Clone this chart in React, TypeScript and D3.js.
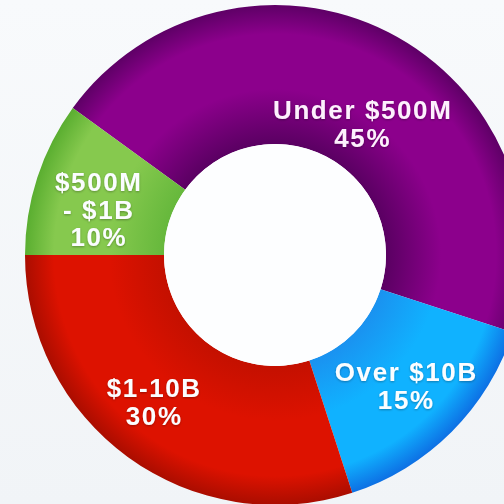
import React, { useEffect } from "react";
import * as d3 from "d3";

const categories = ["Under $500M", "Over $10B", "$1-10B", "$500M - $1B"];
const values = [45, 15, 30, 10];
const labelLines = [
  ["Under $500M", "45%"],
  ["Over $10B", "15%"],
  ["$1-10B", "30%"],
  ["$500M", "- $1B", "10%"],
];
// gradient colours per slice: [inner, bright, outer]
const palette = [
  ["#5a0062", "#8c008c", "#5e0066"],
  ["#1a92f0", "#10b2ff", "#0d70e4"],
  ["#c41000", "#dd1200", "#aa0d00"],
  ["#66b83c", "#86c94e", "#5aae30"],
];

const W = 504;
const H = 504;
const cx = 275;
const cy = 255;
const outerR = 250;
const innerR = 111;
const labelR = 180;
const nudges = [
  [6, 29],
  [4, 3],
  [-15, 1],
  [-5, 10],
];
const lineH = 27.5;
const capH = 19;

export default function App() {
  useEffect(() => {
    document.body.style.margin = "0";
  }, []);

  const pie = d3
    .pie<number>()
    .sort(null)
    .value((d) => d)
    .startAngle(-0.3 * Math.PI)
    .endAngle(1.7 * Math.PI);
  const arcs = pie(values);
  const arc = d3.arc<d3.PieArcDatum<number>>().innerRadius(innerR).outerRadius(outerR);
  const labelArc = d3.arc<d3.PieArcDatum<number>>().innerRadius(labelR).outerRadius(labelR);
  const rel = (r: number) => r / outerR;

  return (
    <svg width={W} height={H} style={{ display: "block" }} xmlns="http://www.w3.org/2000/svg">
      <defs>
        <linearGradient id="bg" x1="0" y1="0" x2="0" y2="1">
          <stop offset="0" stopColor="#f8fafc" />
          <stop offset="1" stopColor="#f1f4f7" />
        </linearGradient>
        {palette.map((p, i) => (
          <radialGradient
            key={i}
            id={`g${i}`}
            gradientUnits="userSpaceOnUse"
            cx={0}
            cy={0}
            r={outerR}
          >
            <stop offset={rel(innerR)} stopColor={p[0]} />
            <stop offset={rel(innerR + 55)} stopColor={p[1]} />
            <stop offset={rel(innerR + 110)} stopColor={p[1]} />
            <stop offset={1} stopColor={p[2]} />
          </radialGradient>
        ))}
        <filter id="ts" x="-20%" y="-40%" width="140%" height="180%">
          <feDropShadow dx="0" dy="1" stdDeviation="1" floodColor="#000" floodOpacity="0.3" />
        </filter>
      </defs>
      <rect x={0} y={0} width={W} height={H} fill="url(#bg)" />
      <g transform={`translate(${cx},${cy})`}>
        {arcs.map((a, i) => (
          <path key={categories[i]} d={arc(a) || ""} fill={`url(#g${i})`} />
        ))}
        <circle r={innerR} fill="#fdfeff" />
        {arcs.map((a, i) => {
          const [x, y] = labelArc.centroid(a);
          const lx = x + nudges[i][0];
          const ly = y + nudges[i][1];
          const lines = labelLines[i];
          const first = ly - ((lines.length - 1) * lineH) / 2 + capH / 2;
          return (
            <text
              key={`l${i}`}
              textAnchor="middle"
              fontFamily="'Liberation Sans', Arial, sans-serif"
              fontWeight="bold"
              fontSize={26}
              letterSpacing={1.6}
              fill={i === 0 ? "#fdf0fd" : "#fbfdff"}
              filter="url(#ts)"
            >
              {lines.map((t, j) => (
                <tspan key={j} x={lx} y={first + j * lineH}>
                  {t}
                </tspan>
              ))}
            </text>
          );
        })}
      </g>
    </svg>
  );
}
